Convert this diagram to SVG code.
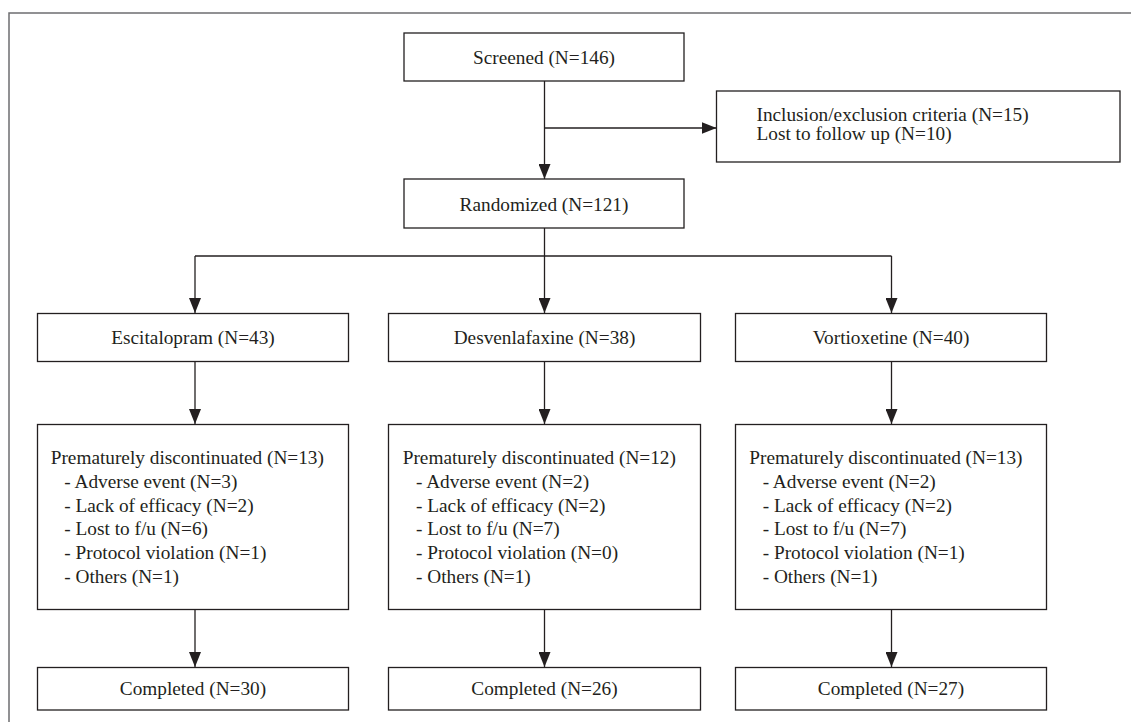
<svg xmlns="http://www.w3.org/2000/svg" width="1131" height="722" viewBox="0 0 1131 722">
<style>
.box{fill:#fff;stroke:#231f20;stroke-width:1.3}
.t{font-family:"Liberation Serif","Times New Roman",serif;font-size:19.3px;fill:#231f20}
.c{text-anchor:middle}
.ln{fill:none;stroke:#231f20;stroke-width:1.3}
.frame{fill:none;stroke:#6d6e70;stroke-width:1.5}
</style>
<defs>
<marker id="ah" markerUnits="userSpaceOnUse" markerWidth="16" markerHeight="12" refX="15" refY="6" orient="auto">
<path d="M0,0 L15,6 L0,12 Z" fill="#231f20"/>
</marker>
</defs>
<rect width="1131" height="722" fill="#fff"/>
<path class="frame" d="M9,722 V13 H1131"/>
<g id="connectors">
<line class="ln" x1="544.5" y1="81" x2="544.5" y2="179" marker-end="url(#ah)"/>
<line class="ln" x1="544.5" y1="128" x2="716.5" y2="128" marker-end="url(#ah)"/>
<line class="ln" x1="544.5" y1="228" x2="544.5" y2="313" marker-end="url(#ah)"/>
<path class="ln" d="M195,256 H891.5"/>
<line class="ln" x1="195" y1="256" x2="195" y2="313" marker-end="url(#ah)"/>
<line class="ln" x1="891.5" y1="256" x2="891.5" y2="313" marker-end="url(#ah)"/>
<line class="ln" x1="195" y1="362" x2="195" y2="424" marker-end="url(#ah)"/>
<line class="ln" x1="544.5" y1="362" x2="544.5" y2="424" marker-end="url(#ah)"/>
<line class="ln" x1="891.5" y1="362" x2="891.5" y2="424" marker-end="url(#ah)"/>
<line class="ln" x1="195" y1="609" x2="195" y2="667" marker-end="url(#ah)"/>
<line class="ln" x1="544.5" y1="609" x2="544.5" y2="667" marker-end="url(#ah)"/>
<line class="ln" x1="891.5" y1="609" x2="891.5" y2="667" marker-end="url(#ah)"/>
</g>
<g id="screened">
<rect class="box" x="404" y="33" width="280" height="48"/>
<text class="t c" x="544" y="64">Screened (N=146)</text>
</g>
<g id="excluded">
<rect class="box" x="716.5" y="91" width="403.5" height="71"/>
<text class="t" x="756.5" y="121">Inclusion/exclusion criteria (N=15)</text>
<text class="t" x="756.5" y="140">Lost to follow up (N=10)</text>
</g>
<g id="randomized">
<rect class="box" x="404" y="179" width="280" height="49"/>
<text class="t c" x="544" y="210.5">Randomized (N=121)</text>
</g>
<g id="escitalopram">
<rect class="box" x="37.5" y="313.5" width="311" height="48"/>
<text class="t c" x="193" y="344">Escitalopram (N=43)</text>
</g>
<g id="desvenlafaxine">
<rect class="box" x="388.5" y="313.5" width="312" height="48"/>
<text class="t c" x="544.5" y="344">Desvenlafaxine (N=38)</text>
</g>
<g id="vortioxetine">
<rect class="box" x="735.5" y="313.5" width="311" height="48"/>
<text class="t c" x="891" y="344">Vortioxetine (N=40)</text>
</g>
<g id="disc-escitalopram">
<rect class="box" x="37.5" y="424.5" width="311" height="185"/>
<text class="t" x="50.7" y="464">Prematurely discontinuated (N=13)</text>
<text class="t" x="64.3" y="487.8">- Adverse event (N=3)</text>
<text class="t" x="64.3" y="511.6">- Lack of efficacy (N=2)</text>
<text class="t" x="64.3" y="535.4">- Lost to f/u (N=6)</text>
<text class="t" x="64.3" y="559.2">- Protocol violation (N=1)</text>
<text class="t" x="64.3" y="583">- Others (N=1)</text>
</g>
<g id="disc-desvenlafaxine">
<rect class="box" x="388.5" y="424.5" width="312" height="185"/>
<text class="t" x="402.7" y="464">Prematurely discontinuated (N=12)</text>
<text class="t" x="416" y="487.8">- Adverse event (N=2)</text>
<text class="t" x="416" y="511.6">- Lack of efficacy (N=2)</text>
<text class="t" x="416" y="535.4">- Lost to f/u (N=7)</text>
<text class="t" x="416" y="559.2">- Protocol violation (N=0)</text>
<text class="t" x="416" y="583">- Others (N=1)</text>
</g>
<g id="disc-vortioxetine">
<rect class="box" x="735.5" y="424.5" width="311" height="185"/>
<text class="t" x="749.3" y="464">Prematurely discontinuated (N=13)</text>
<text class="t" x="762.7" y="487.8">- Adverse event (N=2)</text>
<text class="t" x="762.7" y="511.6">- Lack of efficacy (N=2)</text>
<text class="t" x="762.7" y="535.4">- Lost to f/u (N=7)</text>
<text class="t" x="762.7" y="559.2">- Protocol violation (N=1)</text>
<text class="t" x="762.7" y="583">- Others (N=1)</text>
</g>
<g id="completed-escitalopram">
<rect class="box" x="37.5" y="667.5" width="311" height="42.5"/>
<text class="t c" x="193" y="695">Completed (N=30)</text>
</g>
<g id="completed-desvenlafaxine">
<rect class="box" x="388.5" y="667.5" width="312" height="42.5"/>
<text class="t c" x="544.5" y="695">Completed (N=26)</text>
</g>
<g id="completed-vortioxetine">
<rect class="box" x="735.5" y="667.5" width="311" height="42.5"/>
<text class="t c" x="891" y="695">Completed (N=27)</text>
</g>
</svg>
